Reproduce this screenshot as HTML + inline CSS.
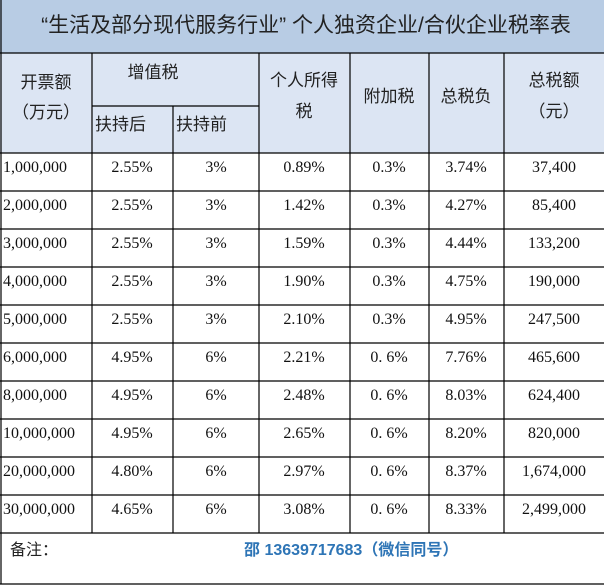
<!DOCTYPE html><html><head><meta charset="utf-8"><style>body{margin:0;background:#fff}</style></head><body>
<svg width="604" height="587" xmlns="http://www.w3.org/2000/svg" style="display:block">
<rect x="0" y="0" width="604" height="53" fill="#b8cce4"/>
<rect x="0" y="53" width="604" height="100" fill="#dce5f3"/>
<g stroke="#000" stroke-width="1.2" fill="none">
<line x1="1" y1="0" x2="1" y2="584"/>
<line x1="0" y1="53" x2="604" y2="53"/>
<line x1="92" y1="106" x2="259" y2="106"/>
<line x1="92" y1="53" x2="92" y2="533"/>
<line x1="173" y1="106" x2="173" y2="533"/>
<line x1="259" y1="53" x2="259" y2="533"/>
<line x1="350" y1="53" x2="350" y2="533"/>
<line x1="429" y1="53" x2="429" y2="533"/>
<line x1="504" y1="53" x2="504" y2="533"/>
<line x1="0" y1="153" x2="604" y2="153"/>
<line x1="0" y1="191" x2="604" y2="191"/>
<line x1="0" y1="229" x2="604" y2="229"/>
<line x1="0" y1="267" x2="604" y2="267"/>
<line x1="0" y1="305" x2="604" y2="305"/>
<line x1="0" y1="343" x2="604" y2="343"/>
<line x1="0" y1="381" x2="604" y2="381"/>
<line x1="0" y1="419" x2="604" y2="419"/>
<line x1="0" y1="457" x2="604" y2="457"/>
<line x1="0" y1="495" x2="604" y2="495"/>
<line x1="0" y1="533" x2="604" y2="533"/>
<line x1="0" y1="584" x2="604" y2="584"/>
</g>
<g font-family="'Liberation Sans','Noto Sans CJK SC',sans-serif" fill="#222">
<text x="306" y="32" font-size="21" text-anchor="middle">“生活及部分现代服务行业” 个人独资企业/合伙企业税率表</text>
<g font-size="17" text-anchor="middle">
<text x="46" y="88">开票额</text><text x="46" y="118">（万元）</text>
<text x="153" y="78">增值税</text>
<text x="304" y="86">个人所得</text><text x="304" y="117">税</text>
<text x="389" y="102">附加税</text>
<text x="466" y="102">总税负</text>
<text x="554" y="86">总税额</text><text x="554" y="117">（元）</text>
</g>
<g font-size="17"><text x="95" y="130">扶持后</text><text x="176" y="130">扶持前</text></g>
<text x="10" y="555" font-size="16">备注：</text>
<text x="244" y="555" font-size="16" fill="#2e75b6" font-weight="bold">邵  13639717683（微信同号）</text>
</g>
<g font-family="'Liberation Serif','Noto Serif CJK SC',serif" font-size="16" fill="#111" text-anchor="middle">
<text x="3" y="172" text-anchor="start">1,000,000</text><text x="132" y="172">2.55%</text><text x="216" y="172">3%</text><text x="304" y="172">0.89%</text><text x="389" y="172">0.3%</text><text x="466" y="172">3.74%</text><text x="554" y="172">37,400</text>
<text x="3" y="210" text-anchor="start">2,000,000</text><text x="132" y="210">2.55%</text><text x="216" y="210">3%</text><text x="304" y="210">1.42%</text><text x="389" y="210">0.3%</text><text x="466" y="210">4.27%</text><text x="554" y="210">85,400</text>
<text x="3" y="248" text-anchor="start">3,000,000</text><text x="132" y="248">2.55%</text><text x="216" y="248">3%</text><text x="304" y="248">1.59%</text><text x="389" y="248">0.3%</text><text x="466" y="248">4.44%</text><text x="554" y="248">133,200</text>
<text x="3" y="286" text-anchor="start">4,000,000</text><text x="132" y="286">2.55%</text><text x="216" y="286">3%</text><text x="304" y="286">1.90%</text><text x="389" y="286">0.3%</text><text x="466" y="286">4.75%</text><text x="554" y="286">190,000</text>
<text x="3" y="324" text-anchor="start">5,000,000</text><text x="132" y="324">2.55%</text><text x="216" y="324">3%</text><text x="304" y="324">2.10%</text><text x="389" y="324">0.3%</text><text x="466" y="324">4.95%</text><text x="554" y="324">247,500</text>
<text x="3" y="362" text-anchor="start">6,000,000</text><text x="132" y="362">4.95%</text><text x="216" y="362">6%</text><text x="304" y="362">2.21%</text><text x="389" y="362">0. 6%</text><text x="466" y="362">7.76%</text><text x="554" y="362">465,600</text>
<text x="3" y="400" text-anchor="start">8,000,000</text><text x="132" y="400">4.95%</text><text x="216" y="400">6%</text><text x="304" y="400">2.48%</text><text x="389" y="400">0. 6%</text><text x="466" y="400">8.03%</text><text x="554" y="400">624,400</text>
<text x="3" y="438" text-anchor="start">10,000,000</text><text x="132" y="438">4.95%</text><text x="216" y="438">6%</text><text x="304" y="438">2.65%</text><text x="389" y="438">0. 6%</text><text x="466" y="438">8.20%</text><text x="554" y="438">820,000</text>
<text x="3" y="476" text-anchor="start">20,000,000</text><text x="132" y="476">4.80%</text><text x="216" y="476">6%</text><text x="304" y="476">2.97%</text><text x="389" y="476">0. 6%</text><text x="466" y="476">8.37%</text><text x="554" y="476">1,674,000</text>
<text x="3" y="514" text-anchor="start">30,000,000</text><text x="132" y="514">4.65%</text><text x="216" y="514">6%</text><text x="304" y="514">3.08%</text><text x="389" y="514">0. 6%</text><text x="466" y="514">8.33%</text><text x="554" y="514">2,499,000</text>
</g>
</svg>
</body></html>
